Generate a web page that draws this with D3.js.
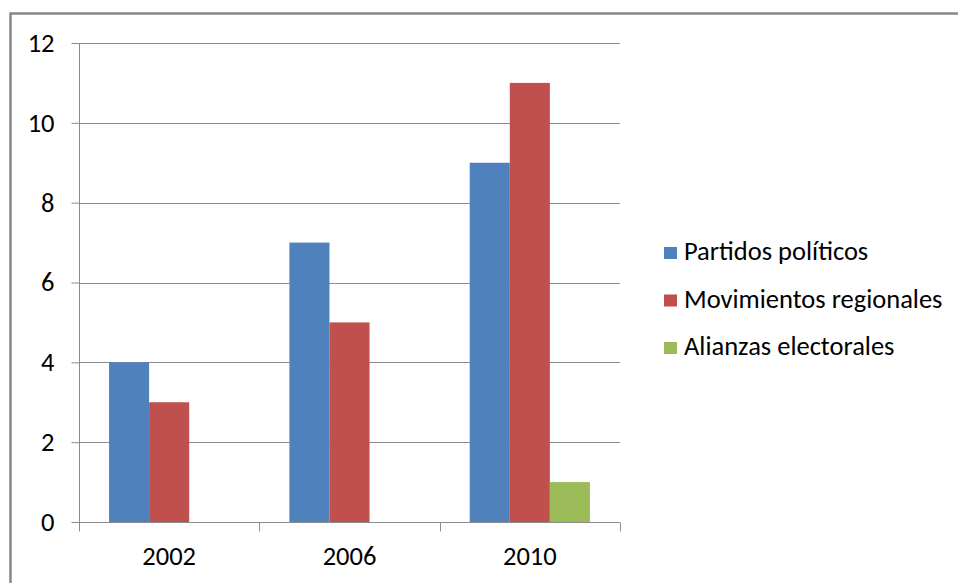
<!DOCTYPE html>
<html>
<head>
<meta charset="utf-8">
<script src="https://cdn.jsdelivr.net/npm/d3@7"></script>
<style>
  body { margin: 0; background: #fff; }
  text { font-family: Carlito, Calibri, Lato, "Open Sans", sans-serif; fill: #000; }
</style>
</head>
<body>
<script>
// data
var years = ["2002", "2006", "2010"];
var seriesNames = ["Partidos políticos", "Movimientos regionales", "Alianzas electorales"];
var partidos = [4, 7, 9];
var movimientos = [3, 5, 11];
var alianzas = [0, 0, 1];
var yTicks = [0, 2, 4, 6, 8, 10, 12];
var colors = ["#4f81bd", "#c0504d", "#9bbb59"];

var W = 958, H = 583;
var margin = {top: 43, right: 338, bottom: 61, left: 79};
var w = W - margin.left - margin.right;
var h = H - margin.top - margin.bottom;

var svg = d3.select("body")
    .append("svg")
    .attr("width", W)
    .attr("height", H);

// outer chart border
svg.append("rect")
    .attr("x", 10.5)
    .attr("y", 13.5)
    .attr("width", 980)
    .attr("height", 620)
    .attr("fill", "none")
    .attr("stroke", "#888")
    .attr("stroke-width", 2.5);

var g = svg.append("g")
    .attr("transform", "translate(" + margin.left + "," + margin.top + ")");

var x0 = d3.scaleBand()
    .domain(years)
    .range([0, w]);

// gap width 150% => bars take 3/4.5 of the category
var x1 = d3.scaleBand()
    .domain(seriesNames)
    .range([x0.bandwidth() * 0.75 / 4.5, x0.bandwidth() * 3.75 / 4.5]);

var y = d3.scaleLinear()
    .domain([0, 12])
    .range([h, 0]);

// gridlines
g.selectAll("line.grid")
    .data(yTicks.slice(1))
    .enter()
    .append("line")
    .attr("class", "grid")
    .attr("x1", 0)
    .attr("x2", w)
    .attr("y1", function (d) { return Math.round(y(d)) + 0.5; })
    .attr("y2", function (d) { return Math.round(y(d)) + 0.5; })
    .attr("stroke", "#8c8c8c")
    .attr("stroke-width", 1);

var table = years.map(function (yr, i) {
    return {year: yr, values: [partidos[i], movimientos[i], alianzas[i]]};
});

var groups = g.selectAll("g.yr")
    .data(table)
    .enter()
    .append("g")
    .attr("class", "yr")
    .attr("transform", function (d) { return "translate(" + x0(d.year) + ",0)"; });

groups.selectAll("rect")
    .data(function (d) {
        return d.values.map(function (v, j) { return {name: seriesNames[j], value: v, j: j}; });
    })
    .enter()
    .append("rect")
    .attr("x", function (d) { return x1(d.name); })
    .attr("width", x1.bandwidth())
    .attr("y", function (d) { return y(d.value); })
    .attr("height", function (d) { return h - y(d.value); })
    .attr("fill", function (d) { return colors[d.j]; });

// y axis
var yAxis = g.append("g")
    .attr("transform", "translate(0.5,0)")
    .call(d3.axisLeft(y).tickValues(yTicks).tickSize(8).tickPadding(17).tickFormat(d3.format("d")));
yAxis.selectAll("line").attr("stroke", "#8c8c8c");
yAxis.select(".domain").attr("stroke", "#8c8c8c").attr("d", "M0,0V" + h);
yAxis.selectAll("text")
    .style("font-family", null)
    .attr("font-size", 26.5)
    .attr("fill", "#000");

// x axis with ticks at category boundaries
var xAxis = g.append("g")
    .attr("transform", "translate(0," + (h + 0.5) + ")");
xAxis.append("line")
    .attr("x1", 0).attr("x2", w)
    .attr("stroke", "#8c8c8c");
xAxis.selectAll("line.tk")
    .data(years.concat(["end"]))
    .enter()
    .append("line")
    .attr("class", "tk")
    .attr("x1", function (d, i) { return Math.round(i < years.length ? x0(d) : w) + 0.5; })
    .attr("x2", function (d, i) { return Math.round(i < years.length ? x0(d) : w) + 0.5; })
    .attr("y1", 0)
    .attr("y2", 9)
    .attr("stroke", "#8c8c8c");
xAxis.selectAll("text")
    .data(years)
    .enter()
    .append("text")
    .attr("x", function (d) { return x0(d) + x0.bandwidth() / 2; })
    .attr("y", 42)
    .attr("text-anchor", "middle")
    .attr("font-size", 26.5)
    .text(function (d) { return d; });

// legend
var legend = svg.append("g")
    .attr("transform", "translate(664,247)");
var items = legend.selectAll("g")
    .data(seriesNames)
    .enter()
    .append("g")
    .attr("transform", function (d, i) { return "translate(0," + (i * 47.5) + ")"; });
items.append("rect")
    .attr("width", 13)
    .attr("height", 12)
    .attr("fill", function (d, i) { return colors[i]; });
items.append("text")
    .attr("x", 20)
    .attr("y", 13)
    .attr("font-size", 26.5)
    .text(function (d) { return d; });
</script>
</body>
</html>
